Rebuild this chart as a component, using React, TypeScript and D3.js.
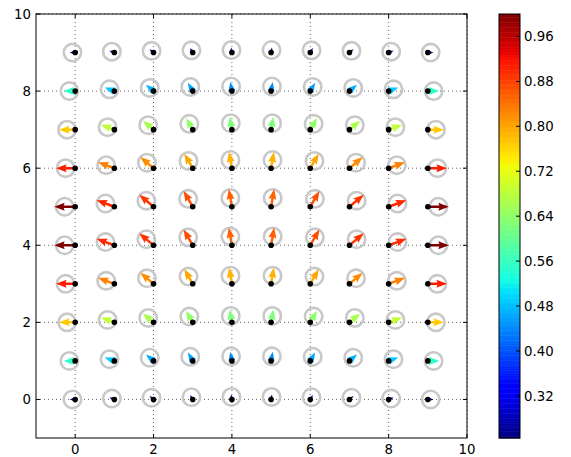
import React from "react";
import * as d3 from "d3";

// grid positions
const gridX = [0, 1, 2, 3, 4, 5, 6, 7, 8, 9];
const gridY = [0, 1, 2, 3, 4, 5, 6, 7, 8, 9];
// arrow direction for each column (degrees, counter-clockwise from +x)
const columnAngleDeg = [180, 160, 140, 120, 100, 80, 60, 40, 20, 0];
// arrow magnitude (also the colour value), one row per y = 0..9
const magnitudeRows = [
  [0.26, 0.255, 0.25, 0.245, 0.245, 0.245, 0.245, 0.25, 0.255, 0.27],
  [0.55, 0.49, 0.47, 0.46, 0.445, 0.445, 0.46, 0.47, 0.49, 0.55],
  [0.77, 0.685, 0.665, 0.64, 0.625, 0.625, 0.64, 0.665, 0.685, 0.77],
  [0.91, 0.83, 0.82, 0.80, 0.79, 0.79, 0.80, 0.82, 0.83, 0.91],
  [1.0, 0.9, 0.89, 0.87, 0.855, 0.855, 0.87, 0.89, 0.9, 1.0],
  [1.0, 0.9, 0.89, 0.87, 0.855, 0.855, 0.87, 0.89, 0.9, 1.0],
  [0.91, 0.83, 0.82, 0.80, 0.79, 0.79, 0.80, 0.82, 0.83, 0.91],
  [0.77, 0.685, 0.665, 0.64, 0.625, 0.625, 0.64, 0.665, 0.685, 0.77],
  [0.55, 0.49, 0.47, 0.46, 0.445, 0.445, 0.46, 0.47, 0.49, 0.55],
  [0.26, 0.255, 0.25, 0.245, 0.245, 0.245, 0.245, 0.25, 0.255, 0.27],
];
const xTicks = [0, 2, 4, 6, 8, 10];
const yTicks = [0, 2, 4, 6, 8, 10];
const cbTicks = [0.32, 0.4, 0.48, 0.56, 0.64, 0.72, 0.8, 0.88, 0.96];
const cbTickLabels = ["0.32", "0.40", "0.48", "0.56", "0.64", "0.72", "0.80", "0.88", "0.96"];

const W = 571;
const H = 457;
const ax = { left: 36, right: 467, top: 14, bottom: 438 };
const cb = { left: 499, right: 520, top: 14, bottom: 438 };
const FONT = "DejaVu Sans";
const FS = 13.3;

// matplotlib "jet"
const jetR = d3.scaleLinear<number>().domain([0, 0.35, 0.66, 0.89, 1]).range([0, 0, 1, 1, 0.5]).clamp(true);
const jetG = d3.scaleLinear<number>().domain([0, 0.125, 0.375, 0.64, 0.91, 1]).range([0, 0, 1, 1, 0, 0]).clamp(true);
const jetB = d3.scaleLinear<number>().domain([0, 0.11, 0.34, 0.65, 1]).range([0.5, 1, 1, 0, 0]).clamp(true);
const jet = (t: number) =>
  d3.rgb(jetR(t) * 255, jetG(t) * 255, jetB(t) * 255).formatHex();

const allMags = magnitudeRows.flat();
const vmin = d3.min(allMags) as number;
const vmax = d3.max(allMags) as number;

const xScale = d3.scaleLinear().domain([-1, 10]).range([ax.left, ax.right]);
const yScale = d3.scaleLinear().domain([-1, 10]).range([ax.bottom, ax.top]);
const norm = d3.scaleLinear().domain([vmin, vmax]).range([0, 1]).clamp(true);
const cbScale = d3.scaleLinear().domain([vmin, vmax]).range([cb.bottom, cb.top]);

// pixels per unit magnitude
const arrowScale = 21;
const shaftW = 2.5;
const headHalfW = 4;
const headLen = 10.5;
const headAxisLen = 9.5;

function arrowPoints(L: number): string {
  const base = Math.max(L, headLen);
  const s = L < headLen ? L / headLen : 1;
  const pts: [number, number][] = [
    [0, -shaftW / 2],
    [base - headAxisLen, -shaftW / 2],
    [base - headLen, -headHalfW],
    [base, 0],
    [base - headLen, headHalfW],
    [base - headAxisLen, shaftW / 2],
    [0, shaftW / 2],
  ];
  return pts.map(([a, b]) => `${(a * s).toFixed(2)},${(b * s).toFixed(2)}`).join(" ");
}

export default function App() {
  const items: {
    key: string;
    px: number;
    py: number;
    ang: number;
    L: number;
    color: string;
    cx: number;
    cy: number;
  }[] = [];
  gridY.forEach((gy, j) => {
    gridX.forEach((gx, i) => {
      const m = magnitudeRows[j][i];
      const ang = columnAngleDeg[i];
      const L = m * arrowScale;
      const px = xScale(gx);
      const py = yScale(gy);
      const rad = (ang * Math.PI) / 180;
      items.push({
        key: `${i}-${j}`,
        px,
        py,
        ang,
        L,
        color: jet(norm(m)),
        cx: px + (Math.cos(rad) * L) / 2,
        cy: py - (Math.sin(rad) * L) / 2,
      });
    });
  });

  const nBands = 256;
  const bands = d3.range(nBands).map((k) => {
    const v0 = vmin + ((vmax - vmin) * k) / nBands;
    const v1 = vmin + ((vmax - vmin) * (k + 1)) / nBands;
    return { y0: cbScale(v1), y1: cbScale(v0), color: jet((k + 0.5) / nBands) };
  });

  return (
    <svg
      width={W}
      height={H}
      style={{ position: "absolute", left: 0, top: 0, background: "#fff" }}
      fontFamily={FONT}
    >
      <rect x={0} y={0} width={W} height={H} fill="#fff" />
      <defs>
        <clipPath id="axclip">
          <rect x={ax.left} y={ax.top} width={ax.right - ax.left} height={ax.bottom - ax.top} />
        </clipPath>
      </defs>
      {/* grid */}
      <g stroke="#000" strokeWidth={0.6} strokeDasharray="1,3">
        {xTicks.map((t) => (
          <line key={"gx" + t} x1={xScale(t)} x2={xScale(t)} y1={ax.top} y2={ax.bottom} />
        ))}
        {yTicks.map((t) => (
          <line key={"gy" + t} y1={yScale(t)} y2={yScale(t)} x1={ax.left} x2={ax.right} />
        ))}
      </g>
      <g clipPath="url(#axclip)">
        {items.map((d) => (
          <circle key={"c" + d.key} cx={d.cx} cy={d.cy} r={8.7} fill="none" stroke="#c8c8c8" strokeWidth={2.6} />
        ))}
        {items.map((d) => (
          <polygon
            key={"a" + d.key}
            points={arrowPoints(d.L)}
            fill={d.color}
            transform={`translate(${d.px},${d.py}) rotate(${-d.ang})`}
          />
        ))}
        {items.map((d) => (
          <circle key={"d" + d.key} cx={d.px} cy={d.py} r={2.8} fill="#000" />
        ))}
      </g>
      {/* axes frame and ticks */}
      <rect
        x={ax.left}
        y={ax.top}
        width={ax.right - ax.left}
        height={ax.bottom - ax.top}
        fill="none"
        stroke="#000"
        strokeWidth={1}
      />
      <g stroke="#000" strokeWidth={1}>
        {xTicks.map((t) => (
          <g key={"tx" + t}>
            <line x1={xScale(t)} x2={xScale(t)} y1={ax.bottom} y2={ax.bottom - 4} />
            <line x1={xScale(t)} x2={xScale(t)} y1={ax.top} y2={ax.top + 4} />
          </g>
        ))}
        {yTicks.map((t) => (
          <g key={"ty" + t}>
            <line y1={yScale(t)} y2={yScale(t)} x1={ax.left} x2={ax.left + 4} />
            <line y1={yScale(t)} y2={yScale(t)} x1={ax.right} x2={ax.right - 4} />
          </g>
        ))}
      </g>
      <g fontSize={FS} fill="#000">
        {xTicks.map((t) => (
          <text key={"lx" + t} x={xScale(t)} y={ax.bottom + 16} textAnchor="middle">
            {t}
          </text>
        ))}
        {yTicks.map((t) => (
          <text key={"ly" + t} x={ax.left - 5} y={yScale(t) + 5} textAnchor="end">
            {t}
          </text>
        ))}
      </g>
      {/* colorbar */}
      <g>
        {bands.map((b, k) => (
          <rect key={"b" + k} x={cb.left} y={b.y0} width={cb.right - cb.left} height={b.y1 - b.y0 + 0.5} fill={b.color} />
        ))}
        <rect
          x={cb.left}
          y={cb.top}
          width={cb.right - cb.left}
          height={cb.bottom - cb.top}
          fill="none"
          stroke="#000"
          strokeWidth={1}
        />
        <g stroke="#000" strokeWidth={1}>
          {cbTicks.map((t) => (
            <line key={"ct" + t} x1={cb.right} x2={cb.right - 4} y1={cbScale(t)} y2={cbScale(t)} />
          ))}
        </g>
        <g fontSize={FS} fill="#000">
          {cbTicks.map((t, k) => (
            <text key={"cl" + t} x={cb.right + 4} y={cbScale(t) + 5}>
              {cbTickLabels[k]}
            </text>
          ))}
        </g>
      </g>
    </svg>
  );
}
